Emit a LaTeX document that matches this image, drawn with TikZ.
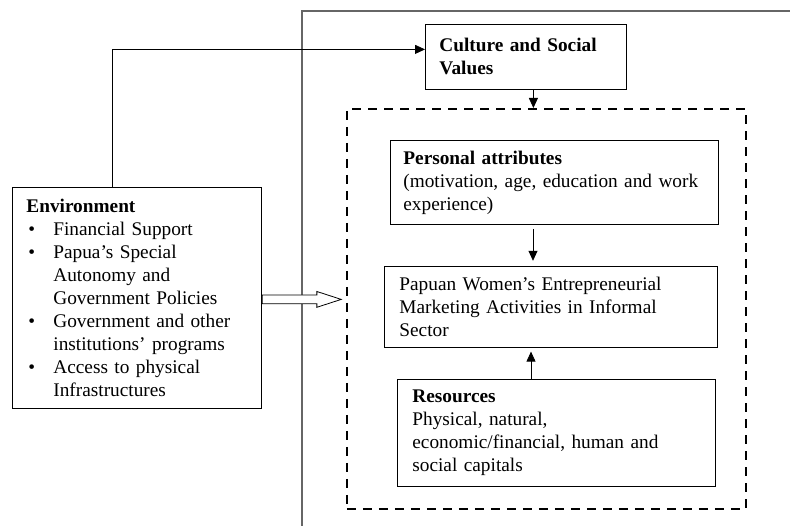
\documentclass[tikz,border=0pt]{standalone}
\usepackage{fontspec}
\setmainfont{Liberation Serif}
\usetikzlibrary{arrows.meta, positioning, shapes.arrows}
\setlength{\parindent}{0pt}
\tikzset{main box/.style={rectangle,draw,line width=0.8pt,align=left,inner xsep=14pt,inner ysep=0pt,font=\fontsize{19.3}{23}\selectfont},
  core box/.style={rectangle,draw,line width=1.6pt,dash pattern=on 9pt off 7pt,inner sep=0pt},
  link/.style={line width=0.8pt,-{Triangle[length=10pt,width=9pt]}},}
\newcommand{\envitem}[1]{\par\hangindent=27pt\hangafter=1\noindent\makebox[27pt][l]{\hspace{2pt}\textbullet}#1\par}

\begin{document}
\begin{tikzpicture}[x=1pt, y=-1pt]
       \useasboundingbox (0,0) rectangle (790,526);
       % open frame round the right half
       \draw[black!60, line width=1.1pt] (302,526) -- (302,11) -- (790,11);

       \node[main box, text width=221pt, minimum height=221pt, anchor=north west] (env) at (12,187)
         {\textbf{Environment}
          \envitem{Financial Support}
          \envitem{Papua’s Special\newline Autonomy and\newline Government Policies}
          \envitem{Government and other\newline institutions’ programs}
          \envitem{Access to physical\newline Infrastructures}};
       \node[main box, text width=173pt, minimum height=65pt, anchor=north west] (culture) at (425,24)
         {\textbf{Culture and Social}\\\textbf{Values}};

       \node[core box, minimum width=399pt, minimum height=400pt, anchor=north west] (core) at (346,108) {};
       \node[main box, inner xsep=13pt, text width=302pt, minimum height=84pt, anchor=north west] (personal) at (390,140)
         {\textbf{Personal attributes}\\(motivation, age, education and work\\experience)};
       \node[main box, inner xsep=15pt, text width=303pt, minimum height=81pt] (papuan) [below = 41pt of personal, xshift=-3.5pt]
         {Papuan Women’s Entrepreneurial\\Marketing Activities in Informal\\Sector};
       \node[main box, inner xsep=15pt, text width=288pt, minimum height=107pt] (resources) [below = 31pt of papuan, xshift=5.5pt]
         {\textbf{Resources}\\Physical, natural,\\economic/financial, human and\\social capitals};

       \node[single arrow, draw, line width=0.8pt, fill=white, inner xsep=0pt, inner ysep=4pt, minimum height=79pt, minimum width=15pt,
             single arrow head extend=3.5pt, single arrow tip angle=36, anchor=tail] (push) at ([yshift=-1.5pt]env.east) {};

       \draw[link] ([xshift=-25pt]env.north) |- ([yshift=7.5pt]culture.west);
       \draw[link] ([xshift=7.5pt]culture.south) -- ([xshift=7.5pt]culture.south |- core.north);
       \draw[link, shorten <=4pt, shorten >=5pt] (personal.south -| 533,0) -- (papuan.north -| 533,0);
       \draw[link, shorten >=4pt] (resources.north -| 531,0) -- (papuan.south -| 531,0);
    \end{tikzpicture}
\end{document}
